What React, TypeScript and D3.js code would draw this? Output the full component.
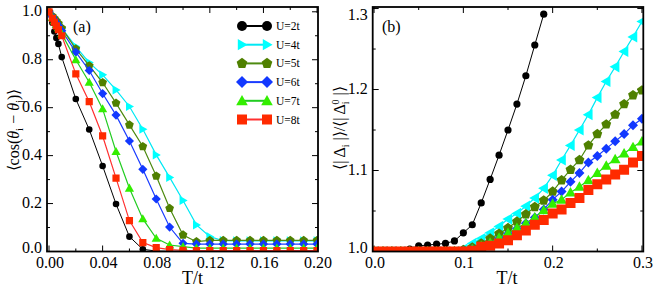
import { useEffect, useRef } from "react";
import * as d3 from "d3";

// panel (a): <cos(theta_i - theta_j)> against T/t
const tDenseA = [0, 0.0025, 0.004, 0.0055, 0.007, 0.0095];
const tMainA = [
  0.02, 0.03, 0.04, 0.05, 0.06, 0.07, 0.08, 0.09, 0.1, 0.11, 0.12, 0.13, 0.14,
  0.15, 0.16, 0.17, 0.18, 0.19, 0.2,
];
const cosU2 = [
  1.0, 0.954, 0.918, 0.891, 0.866, 0.811, 0.636, 0.509, 0.357, 0.198, 0.062,
  0.009, 0.002, 0.001, 0.001, 0.001, 0.001, 0.001, 0.001, 0.001, 0.001, 0.001,
  0.001, 0.001, 0.001,
];
const cosU4 = [
  1.0, 0.982, 0.971, 0.961, 0.95, 0.932, 0.855, 0.788, 0.737, 0.674, 0.605,
  0.51, 0.403, 0.309, 0.213, 0.111, 0.062, 0.045, 0.044, 0.044, 0.044, 0.044,
  0.044, 0.044, 0.044,
];
const cosU5 = [
  1.0, 0.982, 0.972, 0.962, 0.952, 0.932, 0.845, 0.775, 0.705, 0.619, 0.528,
  0.438, 0.315, 0.18, 0.069, 0.041, 0.046, 0.046, 0.046, 0.046, 0.046, 0.046,
  0.046, 0.046, 0.046,
];
const cosU6 = [
  1.0, 0.979, 0.967, 0.954, 0.942, 0.921, 0.832, 0.755, 0.659, 0.569, 0.461,
  0.343, 0.219, 0.102, 0.034, 0.031, 0.031, 0.031, 0.031, 0.031, 0.031, 0.031,
  0.031, 0.031, 0.031,
];
const cosU7 = [
  1.0, 0.976, 0.962, 0.947, 0.933, 0.908, 0.8, 0.706, 0.595, 0.417, 0.264,
  0.136, 0.055, 0.027, 0.02, 0.014, 0.014, 0.014, 0.014, 0.014, 0.014, 0.014,
  0.014, 0.014, 0.014,
];
const cosU8 = [
  1.0, 0.973, 0.957, 0.941, 0.926, 0.9, 0.741, 0.625, 0.482, 0.306, 0.129,
  0.037, 0.016, 0.008, 0.005, 0.004, 0.004, 0.004, 0.004, 0.004, 0.004, 0.004,
  0.004, 0.004, 0.004,
];

// panel (b): <|Delta_i|>/<|Delta_i^0|> against T/t
const tB = [
  0, 0.01, 0.02, 0.03, 0.04, 0.05, 0.06, 0.07, 0.08, 0.09, 0.1, 0.11, 0.12,
  0.13, 0.14, 0.15, 0.16, 0.17, 0.18, 0.19, 0.2, 0.21, 0.22, 0.23, 0.24, 0.25,
  0.26, 0.27, 0.28, 0.29, 0.3,
];
const gapU2 = [
  1.0, 1.0, 1.0, 1.001, 1.003, 1.007, 1.008, 1.009, 1.01, 1.013, 1.023, 1.033,
  1.06, 1.089, 1.119, 1.15, 1.182, 1.217, 1.255, 1.293,
];
const gapU4 = [
  1.0, 1.0, 1.0, 1.0, 1.0, 1.0, 1.0, 1.0, 1.0, 1.0, 1.003, 1.01, 1.016, 1.023,
  1.031, 1.04, 1.047, 1.056, 1.066, 1.078, 1.094, 1.113, 1.131, 1.15, 1.169,
  1.19, 1.21, 1.228, 1.247, 1.265, 1.284,
];
const gapU5 = [
  1.0, 1.0, 1.0, 1.0, 1.0, 1.0, 1.0, 1.0, 1.0, 1.0, 1.002, 1.005, 1.01, 1.016,
  1.022, 1.029, 1.037, 1.046, 1.055, 1.063, 1.074, 1.088, 1.101, 1.113, 1.131,
  1.145, 1.157, 1.169, 1.182, 1.193, 1.199,
];
const gapU6 = [
  1.0, 1.0, 1.0, 1.0, 1.0, 1.0, 1.0, 1.0, 1.0, 1.0, 1.001, 1.003, 1.006, 1.01,
  1.016, 1.022, 1.028, 1.035, 1.042, 1.052, 1.064, 1.074, 1.086, 1.097, 1.11,
  1.118, 1.127, 1.136, 1.145, 1.156, 1.164,
];
const gapU7 = [
  1.0, 1.0, 1.0, 1.0, 1.0, 1.0, 1.0, 1.0, 1.0, 1.0, 1.0, 1.003, 1.007, 1.011,
  1.017, 1.023, 1.029, 1.035, 1.042, 1.051, 1.059, 1.064, 1.073, 1.08, 1.088,
  1.097, 1.106, 1.114, 1.121, 1.129, 1.136,
];
const gapU8 = [
  1.0, 1.0, 1.0, 1.0, 1.0, 1.0, 1.0, 1.0, 1.0, 1.0, 1.0, 1.001, 1.006, 1.007,
  1.01, 1.014, 1.02, 1.026, 1.033, 1.039, 1.047, 1.052, 1.06, 1.066, 1.076,
  1.083, 1.089, 1.095, 1.101, 1.11, 1.118,
];

const legendLabels = ["U=2t", "U=4t", "U=5t", "U=6t", "U=7t", "U=8t"];

const xTicksA = [0, 0.04, 0.08, 0.12, 0.16, 0.2];
const xMinorA = [0.02, 0.06, 0.1, 0.14, 0.18];
const yTicksA = [0, 0.2, 0.4, 0.6, 0.8, 1.0];
const yMinorA = [0.1, 0.3, 0.5, 0.7, 0.9];
const xTicksB = [0, 0.1, 0.2, 0.3];
const xMinorB = [0.05, 0.15, 0.25];
const yTicksB = [1.0, 1.1, 1.2, 1.3];
const yMinorB = [1.05, 1.15, 1.25];

const FONT = "'Liberation Serif', 'Times New Roman', serif";

type Marker = "circle" | "triRight" | "triLeft" | "pentagon" | "diamond" | "triUp" | "square";

function markerPath(kind: Marker, r: number) {
  if (kind === "circle") return d3.symbol(d3.symbolCircle, Math.PI * r * r)() as string;
  if (kind === "square") return `M${-r},${-r}h${2 * r}v${2 * r}h${-2 * r}Z`;
  if (kind === "diamond") return `M0,${-r}L${r},0L0,${r}L${-r},0Z`;
  if (kind === "triUp") return `M0,${-r}L${r},${r * 0.75}L${-r},${r * 0.75}Z`;
  if (kind === "triRight") return `M${r},0L${-r * 0.75},${-r}L${-r * 0.75},${r}Z`;
  if (kind === "triLeft") return `M${-r},0L${r * 0.75},${-r}L${r * 0.75},${r}Z`;
  const pts = d3.range(5).map((k) => {
    const a = -Math.PI / 2 + (k * 2 * Math.PI) / 5;
    return [r * Math.cos(a), r * Math.sin(a)];
  });
  return "M" + pts.map((p) => p.join(",")).join("L") + "Z";
}

export default function App() {
  const svgRef = useRef<SVGSVGElement | null>(null);

  useEffect(() => {
    const svgElement = svgRef.current;
    if (!svgElement) return;
    const svg = d3.select(svgElement);
    svg.selectAll("*").remove();

    const tA = tDenseA.concat(tMainA);
    const series = [
      { label: legendLabels[0], fill: "#000000", line: "#000000", width: 1, a: cosU2, b: gapU2, ma: "circle", mb: "circle", ra: 3.3, rb: 3.6, rl: 5 },
      { label: legendLabels[1], fill: "#00ffff", line: "#00e8f4", width: 1.2, a: cosU4, b: gapU4, ma: "triRight", mb: "triLeft", ra: 4.6, rb: 5.6, rl: 5.6 },
      { label: legendLabels[2], fill: "#4f8000", line: "#4d8a10", width: 1.2, a: cosU5, b: gapU5, ma: "pentagon", mb: "pentagon", ra: 4.6, rb: 5.2, rl: 5.6 },
      { label: legendLabels[3], fill: "#1238ff", line: "#1a3cff", width: 1.2, a: cosU6, b: gapU6, ma: "diamond", mb: "diamond", ra: 4.6, rb: 5, rl: 6 },
      { label: legendLabels[4], fill: "#33ee00", line: "#22cc22", width: 1.2, a: cosU7, b: gapU7, ma: "triUp", mb: "triUp", ra: 4.6, rb: 5.4, rl: 5.8 },
      { label: legendLabels[5], fill: "#ff2a00", line: "#ff3030", width: 1.2, a: cosU8, b: gapU8, ma: "square", mb: "square", ra: 3.6, rb: 5, rl: 5 },
    ];

    const panels = [
      {
        x: d3.scaleLinear().domain([-0.0015, 0.2007]).range([47, 318]),
        y: d3.scaleLinear().domain([0, 1.02]).range([251.5, 7]),
        xTicks: xTicksA, xMinor: xMinorA, yTicks: yTicksA, yMinor: yMinorA,
        xFmt: d3.format(".2f"), yFmt: d3.format(".1f"),
        tag: "(a)", tagX: 73, titleShift: 10, key: "a" as const,
      },
      {
        x: d3.scaleLinear().domain([-0.0015, 0.3015]).range([372.7, 643.3]),
        y: d3.scaleLinear().domain([1.0, 1.3019]).range([251.5, 7]),
        xTicks: xTicksB, xMinor: xMinorB, yTicks: yTicksB, yMinor: yMinorB,
        xFmt: d3.format(".1f"), yFmt: d3.format(".1f"),
        tag: "(b)", tagX: 382, titleShift: -1, key: "b" as const,
      },
    ];

    panels.forEach((p) => {
      const [x0, x1] = p.x.range();
      const [y0, y1] = p.y.range();
      const g = svg.append("g");
      const clipId = `clip-${p.key}`;
      svg
        .append("clipPath")
        .attr("id", clipId)
        .append("rect")
        .attr("x", x0)
        .attr("y", y1)
        .attr("width", x1 - x0)
        .attr("height", y0 - y1);

      // ticks, inward on all four sides
      const tick = (vals: number[], len: number) => {
        vals.forEach((v) => {
          const px = p.x(v);
          g.append("line").attr("x1", px).attr("x2", px).attr("y1", y0).attr("y2", y0 - len);
          g.append("line").attr("x1", px).attr("x2", px).attr("y1", y1).attr("y2", y1 + len);
        });
      };
      const tickY = (vals: number[], len: number) => {
        vals.forEach((v) => {
          const py = p.y(v);
          g.append("line").attr("x1", x0).attr("x2", x0 + len).attr("y1", py).attr("y2", py);
          g.append("line").attr("x1", x1).attr("x2", x1 - len).attr("y1", py).attr("y2", py);
        });
      };
      tick(p.xTicks, 6);
      tick(p.xMinor, 3);
      tickY(p.yTicks, 6);
      tickY(p.yMinor, 3);
      g.selectAll("line").attr("stroke", "#000").attr("stroke-width", 1);

      g.selectAll(".xl")
        .data(p.xTicks)
        .enter()
        .append("text")
        .attr("x", (d) => p.x(d) + 1)
        .attr("y", 268)
        .attr("text-anchor", "middle")
        .attr("font-family", FONT)
        .attr("font-size", 16)
        .text((d) => p.xFmt(d));

      g.selectAll(".yl")
        .data(p.yTicks)
        .enter()
        .append("text")
        .attr("x", x0 - 5)
        .attr("y", (d, i) => Math.min(p.y(d) + 4, 253) + (i === p.yTicks.length - 1 && p.key === "b" ? 7 : 0))
        .attr("text-anchor", "end")
        .attr("font-family", FONT)
        .attr("font-size", 16)
        .text((d) => p.yFmt(d));

      g.append("text")
        .attr("x", (x0 + x1) / 2 + p.titleShift)
        .attr("y", 284)
        .attr("text-anchor", "middle")
        .attr("font-family", FONT)
        .attr("font-size", 18)
        .text("T/t");

      g.append("text")
        .attr("x", p.tagX)
        .attr("y", 32)
        .attr("font-family", FONT)
        .attr("font-size", 16)
        .text(p.tag);

      const plot = g.append("g").attr("clip-path", `url(#${clipId})`);
      series.forEach((s) => {
        const vals = p.key === "a" ? s.a : s.b;
        const ts = p.key === "a" ? tA : tB;
        const pts: [number, number][] = vals.map((v, i) => [ts[i], v]);
        const line = d3
          .line<[number, number]>()
          .x((d) => p.x(d[0]))
          .y((d) => p.y(d[1]));
        plot
          .append("path")
          .attr("d", line(pts))
          .attr("fill", "none")
          .attr("stroke", s.line)
          .attr("stroke-width", s.width);
        const shape = markerPath((p.key === "a" ? s.ma : s.mb) as Marker, p.key === "a" ? s.ra : s.rb);
        plot
          .selectAll(null)
          .data(pts)
          .enter()
          .append("path")
          .attr("d", shape)
          .attr("transform", (d) => `translate(${p.x(d[0])},${p.y(d[1])})`)
          .attr("fill", s.fill);
      });

      g.append("rect")
        .attr("x", x0)
        .attr("y", y1)
        .attr("width", x1 - x0)
        .attr("height", y0 - y1)
        .attr("fill", "none")
        .attr("stroke", "#000")
        .attr("stroke-width", 1.8);
    });

    // legend in panel (a)
    const legend = svg.append("g");
    series.forEach((s, i) => {
      const yy = 26 + i * 18.7;
      legend
        .append("line")
        .attr("x1", 242)
        .attr("x2", 267)
        .attr("y1", yy)
        .attr("y2", yy)
        .attr("stroke", s.line)
        .attr("stroke-width", 2);
      [242, 267].forEach((xx) => {
        legend
          .append("path")
          .attr("d", markerPath(s.ma as Marker, s.rl))
          .attr("transform", `translate(${xx},${yy})`)
          .attr("fill", s.fill);
      });
      legend
        .append("text")
        .attr("x", 276)
        .attr("y", yy + 4)
        .attr("font-family", FONT)
        .attr("font-size", 11.5)
        .text(s.label);
    });

    // y-axis titles
    const ta = svg
      .append("text")
      .attr("transform", "translate(19,130) rotate(-90)")
      .attr("text-anchor", "middle")
      .attr("font-family", FONT)
      .attr("font-size", 16);
    ta.append("tspan").text("\u27E8cos(");
    ta.append("tspan").attr("font-style", "italic").text("\u03B8");
    ta.append("tspan").attr("font-size", 11).attr("dy", 4).text("i");
    ta.append("tspan").attr("dy", -4).text(" \u2212 ");
    ta.append("tspan").attr("font-style", "italic").text("\u03B8");
    ta.append("tspan").attr("font-size", 11).attr("dy", 4).text("j");
    ta.append("tspan").attr("dy", -4).text(")\u27E9");

    const tb = svg
      .append("text")
      .attr("transform", "translate(345,128) rotate(-90)")
      .attr("text-anchor", "middle")
      .attr("font-family", FONT)
      .attr("font-size", 16);
    tb.append("tspan").text("\u27E8| \u0394");
    tb.append("tspan").attr("font-size", 10).attr("dy", 4).text("i");
    tb.append("tspan").attr("dy", -4).text(" |\u27E9/\u27E8| \u0394");
    tb.append("tspan").attr("font-size", 10).attr("dy", 4).text("i");
    tb.append("tspan").attr("font-size", 10).attr("dx", -3).attr("dy", -10).text("0");
    tb.append("tspan").attr("dy", 6).text(" |\u27E9");
  }, []);

  return (
    <svg
      ref={svgRef}
      width={654}
      height={300}
      style={{ position: "absolute", left: 0, top: 0, background: "#fff" }}
      role="img"
      aria-label="Two-panel chart"
    />
  );
}
